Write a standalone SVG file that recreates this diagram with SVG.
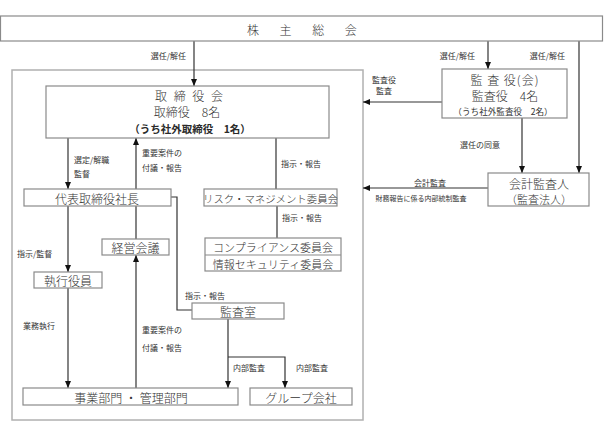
<svg xmlns="http://www.w3.org/2000/svg" width="613" height="438" viewBox="0 0 613 438">
<style>
  text { font-family: "Noto Sans CJK JP", "Noto Sans", sans-serif; fill: #2a2a2a; dominant-baseline: central; }
  .box { fill: #fff; stroke: #8a8a8a; stroke-width: 1.2; }
  .outer { fill: none; stroke: #b0b0b0; stroke-width: 1.5; }
  .bt { font-size: 12px; text-anchor: middle; font-weight: 300; fill: #333; }
  .bt11 { font-size: 11px; text-anchor: middle; font-weight: 300; fill: #333; }
  .lb { font-size: 8px; fill: #333; }
  .lbs { font-size: 7px; fill: #333; }
  .ln { fill: none; stroke: #333; stroke-width: 1.2; }
  .ar { marker-end: url(#ah); }
</style>
<defs>
  <marker id="ah" viewBox="0 0 7 6" refX="7" refY="3" markerWidth="7" markerHeight="6" orient="auto" markerUnits="userSpaceOnUse">
    <path d="M0,0 L7,3 L0,6 z" fill="#111"/>
  </marker>
</defs>

<rect class="outer" x="12" y="70" width="351" height="350"/>

<g id="connectors">
  <line class="ln ar" x1="194" y1="41" x2="194" y2="86"/>
  <line class="ln ar" x1="488" y1="41" x2="488" y2="69"/>
  <line class="ln ar" x1="579" y1="41" x2="579" y2="173"/>
  <line class="ln ar" x1="442" y1="102" x2="363" y2="102"/>
  <line class="ln ar" x1="522" y1="118" x2="522" y2="173"/>
  <line class="ln ar" x1="488" y1="188" x2="363" y2="188"/>
  <line class="ln ar" x1="68" y1="138" x2="68" y2="189"/>
  <line class="ln ar" x1="136" y1="189" x2="136" y2="138"/>
  <line class="ln" x1="276" y1="138" x2="276" y2="189"/>
  <line class="ln ar" x1="68" y1="206" x2="68" y2="272"/>
  <line class="ln" x1="136" y1="206" x2="136" y2="239"/>
  <polyline class="ln" points="171,197 177,197 177,310 192,310"/>
  <line class="ln" x1="277" y1="206" x2="277" y2="238"/>
  <line class="ln ar" x1="68" y1="288" x2="68" y2="388"/>
  <line class="ln ar" x1="136" y1="388" x2="136" y2="255"/>
  <line class="ln ar" x1="228" y1="319" x2="228" y2="388"/>
  <polyline class="ln ar" points="228,357 285,357 285,388"/>

  <text class="lb" x="186" y="55" text-anchor="end">選任/解任</text>
  <text class="lb" x="475" y="55" text-anchor="end">選任/解任</text>
  <text class="lb" x="565" y="55" text-anchor="end">選任/解任</text>
  <text class="lb" x="384" y="79" text-anchor="middle">監査役</text>
  <text class="lb" x="384" y="90" text-anchor="middle">監査</text>
  <text class="lb" x="480" y="144" text-anchor="middle">選任の同意</text>
  <text class="lb" x="430" y="182" text-anchor="middle">会計監査</text>
  <text class="lbs" x="421" y="198" text-anchor="middle">財務報告に係る内部統制監査</text>
  <text class="lb" x="74" y="159">選定/解職</text>
  <text class="lb" x="74" y="173">監督</text>
  <text class="lb" x="142" y="152">重要案件の</text>
  <text class="lb" x="142" y="167">付議・報告</text>
  <text class="lb" x="281" y="163">指示・報告</text>
  <text class="lb" x="17" y="253">指示/監督</text>
  <text class="lb" x="185" y="295">指示・報告</text>
  <text class="lb" x="282" y="217">指示・報告</text>
  <text class="lb" x="23" y="325">業務執行</text>
  <text class="lb" x="142" y="329">重要案件の</text>
  <text class="lb" x="142" y="347">付議・報告</text>
  <text class="lb" x="233" y="367">内部監査</text>
  <text class="lb" x="296" y="367">内部監査</text>
</g>

<g id="shareholders">
  <rect class="box" x="0.5" y="16" width="602" height="25"/>
  <text class="bt" x="304" y="29" style="letter-spacing:4.3px">株　主　総　会</text>
</g>

<g id="board">
  <rect class="box" x="46" y="86" width="283" height="52"/>
  <text class="bt" x="190" y="95" style="letter-spacing:2px">取 締 役 会</text>
  <text class="bt" x="187" y="111">取締役　8名</text>
  <text x="190" y="128" style="font-size:10.5px;font-weight:bold;text-anchor:middle">（うち社外取締役　1名）</text>
</g>

<g id="auditors">
  <rect class="box" x="442" y="69" width="125" height="49"/>
  <text class="bt" x="505" y="79" style="letter-spacing:1px">監 査 役(会)</text>
  <text class="bt" x="505" y="95">監査役　4名</text>
  <text x="503" y="111" style="font-size:8.6px;text-anchor:middle;fill:#333">（うち社外監査役　2名）</text>
</g>

<g id="accounting-auditor">
  <rect class="box" x="488" y="173" width="101" height="33"/>
  <text class="bt" x="539" y="183">会計監査人</text>
  <text class="bt11" x="539" y="199">（監査法人）</text>
</g>

<g id="president">
  <rect class="box" x="24" y="189" width="147" height="17"/>
  <text class="bt" x="97" y="198">代表取締役社長</text>
</g>

<g id="risk-committee">
  <rect class="box" x="204" y="189" width="133" height="17"/>
  <text class="bt11" x="270.5" y="198" style="font-size:10.4px">リスク・マネジメント委員会</text>
</g>

<g id="compliance-committee">
  <rect class="box" x="205" y="238" width="136" height="33"/>
  <line x1="205" y1="255" x2="341" y2="255" stroke="#8a8a8a" stroke-width="1.2"/>
  <text class="bt11" x="273" y="246.5">コンプライアンス委員会</text>
  <text class="bt11" x="273" y="263.5">情報セキュリティ委員会</text>
</g>

<g id="management-meeting">
  <rect class="box" x="102" y="239" width="67" height="16"/>
  <text class="bt" x="135.5" y="247">経営会議</text>
</g>

<g id="executive-officers">
  <rect class="box" x="34" y="272" width="68" height="16"/>
  <text class="bt" x="68" y="280">執行役員</text>
</g>

<g id="audit-office">
  <rect class="box" x="192" y="303" width="92" height="16"/>
  <text class="bt" x="238" y="311">監査室</text>
</g>

<g id="divisions">
  <rect class="box" x="23" y="388" width="215" height="17"/>
  <text class="bt" x="131" y="397">事業部門 ・ 管理部門</text>
</g>

<g id="group-companies">
  <rect class="box" x="250" y="388" width="102" height="17"/>
  <text class="bt" x="301" y="397">グループ会社</text>
</g>
</svg>
